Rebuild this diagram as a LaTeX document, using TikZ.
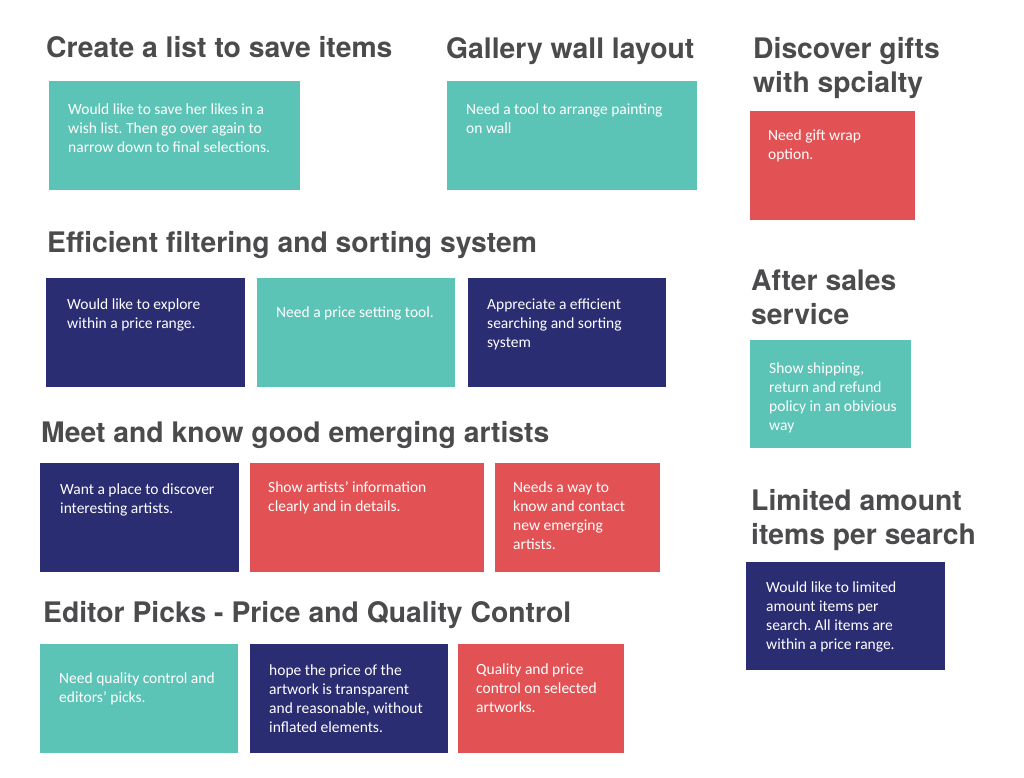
\documentclass[tikz,border=0pt]{standalone}
\usepackage{fontspec}
\setmainfont{Carlito}
\newfontfamily\headfont{TeX Gyre Heros}
\definecolor{tealbox}{HTML}{5CC4B6}
\definecolor{navybox}{HTML}{2B2D73}
\definecolor{redbox}{HTML}{E25153}
\definecolor{headgray}{HTML}{4B4B4D}
\newcommand\mylines[1]{\begin{tabular}[t]{@{}l@{}}#1\end{tabular}}
\frenchspacing
\begin{document}
\begin{tikzpicture}[x=1pt,y=-1pt,
  box/.style={draw=none, anchor=north west, inner sep=0pt, outer sep=0pt},
  head/.style={anchor=base west, inner sep=0pt, font=\headfont\bfseries\fontsize{28.3}{34}\selectfont, text=headgray},
  txt/.style={anchor=base west, inner sep=0pt, font=\fontsize{15.5}{19}\selectfont, text=white}]
\useasboundingbox[fill=white] (0,0) rectangle (1024,778);

% headings
\node[head] (h1) at (46,58) {Create a list to save items};
\node[head] (h2) at (446,59) {Gallery wall layout};
\node[head] (h3) at (753,59) {\mylines{Discover gifts\\with spcialty}};
\node[head] (h4) at (47,252) {Efficient filtering and sorting system};
\node[head] (h5) at (751,290) {\mylines{After sales\\service}};
\node[head] (h6) at (41,442) {Meet and know good emerging artists};
\node[head] (h7) at (751,510) {\mylines{Limited amount\\items per search}};
\node[head] (h8) at (43,622) {Editor Picks - Price and Quality Control};

% boxes
\node[box, fill=tealbox, minimum width=251pt, minimum height=109pt] (b1) at (49,81) {};
\node[box, fill=tealbox, minimum width=250pt, minimum height=109pt] (b2) at (447,81) {};
\node[box, fill=redbox, minimum width=165pt, minimum height=109pt] (b3) at (750,111) {};
\node[box, fill=navybox, minimum width=199pt, minimum height=109pt] (b4) at (46,278) {};
\node[box, fill=tealbox, minimum width=198pt, minimum height=109pt] (b5) at (257,278) {};
\node[box, fill=navybox, minimum width=198pt, minimum height=109pt] (b6) at (468,278) {};
\node[box, fill=tealbox, minimum width=161pt, minimum height=108pt] (b7) at (750,340) {};
\node[box, fill=navybox, minimum width=199pt, minimum height=109pt] (b8) at (40,463) {};
\node[box, fill=redbox, minimum width=234pt, minimum height=109pt] (b9) at (250,463) {};
\node[box, fill=redbox, minimum width=165pt, minimum height=109pt] (b10) at (495,463) {};
\node[box, fill=navybox, minimum width=199pt, minimum height=108pt] (b11) at (746,562) {};
\node[box, fill=tealbox, minimum width=198pt, minimum height=109pt] (b12) at (40,644) {};
\node[box, fill=navybox, minimum width=198pt, minimum height=109pt] (b13) at (250,644) {};
\node[box, fill=redbox, minimum width=166pt, minimum height=109pt] (b14) at (458,644) {};

% texts
\node[txt] (t1) at (68,115) {\mylines{Would like to save her likes in a\\wish list. Then go over again to\\narrow down to final selections.}};
\node[txt] (t2) at (466,115) {\mylines{Need a tool to arrange painting\\on wall}};
\node[txt] (t3) at (768,141) {\mylines{Need gift wrap\\option.}};
\node[txt] (t4) at (67,309) {\mylines{Would like to explore\\within a price range.}};
\node[txt] (t5) at (276,317) {Need a price setting tool.};
\node[txt] (t6) at (487,309) {\mylines{Appreciate a efficient\\searching and sorting\\system}};
\node[txt] (t7) at (769,373) {\mylines{Show shipping,\\return and refund\\policy in an obivious\\way}};
\node[txt] (t8) at (60,494) {\mylines{Want a place to discover\\interesting artists.}};
\node[txt] (t9) at (268,492) {\mylines{Show artists’ information\\clearly and in details.}};
\node[txt] (t10) at (513,492) {\mylines{Needs a way to\\know and contact\\new emerging\\artists.}};
\node[txt] (t11) at (766,592) {\mylines{Would like to limited\\amount items per\\search. All items are\\within a price range.}};
\node[txt] (t12) at (59,683) {\mylines{Need quality control and\\editors’ picks.}};
\node[txt] (t13) at (269,675) {\mylines{hope the price of the\\artwork is transparent\\and reasonable, without\\inflated elements.}};
\node[txt] (t14) at (476,674) {\mylines{Quality and price\\control on selected\\artworks.}};
\end{tikzpicture}
\end{document}
